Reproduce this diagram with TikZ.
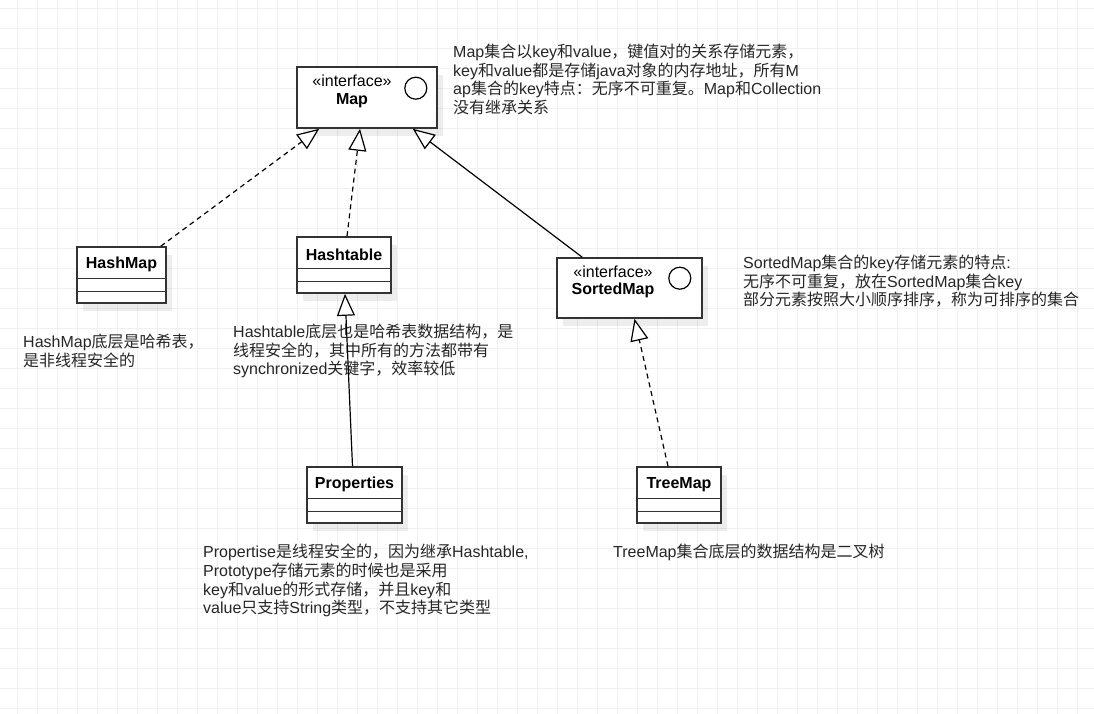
\documentclass[tikz,border=0pt]{standalone}
\usepackage{fontspec}
\setmainfont{Liberation Sans}
\newfontfamily\cjkf{Noto Sans CJK SC}
\usetikzlibrary{arrows.meta,calc,shadows}
\XeTeXinterchartokenstate=1
\newXeTeXintercharclass\cjkcls
\newcount\mycnt
\mycnt="3000 \loop \XeTeXcharclass\mycnt=\cjkcls \advance\mycnt by 1 \ifnum\mycnt<"3040 \repeat
\mycnt="4E00 \loop \XeTeXcharclass\mycnt=\cjkcls \advance\mycnt by 1 \ifnum\mycnt<"A000 \repeat
\mycnt="FF00 \loop \XeTeXcharclass\mycnt=\cjkcls \advance\mycnt by 1 \ifnum\mycnt<"FFF0 \repeat
\XeTeXinterchartoks 0 \cjkcls={\cjkf}
\XeTeXinterchartoks 4095 \cjkcls={\cjkf}
\XeTeXinterchartoks \cjkcls 0={\rmfamily}
\XeTeXinterchartoks \cjkcls 4095={\rmfamily}
\definecolor{stroke}{HTML}{333333}
\definecolor{txt}{HTML}{262626}
\definecolor{gridc}{HTML}{F0F0F0}
\tikzset{
  umlbox/.style={draw=stroke, line width=1.6pt, fill=white, inner sep=0pt,
    drop shadow={shadow xshift=6pt, shadow yshift=-8pt, fill=black, opacity=0.07}},
  divider/.style={draw=stroke, line width=1.4pt},
  lbl/.style={inner sep=0pt, font=\fontsize{16}{19}\selectfont\bfseries, text=black},
  stereo/.style={inner sep=0pt, font=\fontsize{16}{19}\selectfont, text=black},
  ifcircle/.style={circle, draw=black, line width=1.2pt, minimum size=22pt, inner sep=0pt},
  note/.style={anchor=north west, inner sep=0pt, align=left, text=txt,
    font=\fontsize{16}{18.6}\selectfont},
  realize/.style={draw=black, line width=1.2pt, dash pattern=on 5pt off 4pt,
    -{Triangle[length=22pt,width=18pt,fill=white,line width=1.2pt]}},
  generalize/.style={draw=black, line width=1.2pt,
    -{Triangle[length=22pt,width=18pt,fill=white,line width=1.2pt]}},
}
\begin{document}
\begin{tikzpicture}[x=1pt,y=-1pt]
\useasboundingbox (0,0) rectangle (1094,714);
\fill[white] (0,0) rectangle (1094,714);
\foreach \gx in {17,37,...,1093} {\draw[gridc, line width=0.9pt] (\gx,0) -- (\gx,714);}
\foreach \gy in {8,28,...,713} {\draw[gridc, line width=0.9pt] (0,\gy) -- (1094,\gy);}

% boxes
\node[umlbox, minimum width=140pt, minimum height=61pt] (map) at (367,97.5) {};
\node[umlbox, minimum width=89pt, minimum height=56pt] (hm) at (121.5,275) {};
\node[umlbox, minimum width=94pt, minimum height=56pt] (ht) at (344,265) {};
\node[umlbox, minimum width=145pt, minimum height=60pt] (sm) at (629.5,288) {};
\node[umlbox, minimum width=95pt, minimum height=56pt] (pr) at (354.5,495) {};
\node[umlbox, minimum width=84pt, minimum height=56pt] (tm) at (679,495) {};

% dividers
\foreach \b in {hm,ht,pr,tm} {
  \draw[divider] ($(\b.north west)+(0,32)$) -- ($(\b.north east)+(0,32)$);
  \draw[divider] ($(\b.north west)+(0,45)$) -- ($(\b.north east)+(0,45)$);
}

% labels
\node[stereo] (mapI) at ($(map.north)+(-15,15)$) {«interface»};
\node[lbl] (mapN) at ($(map.north)+(-15,34.5)$) {Map};
\node[ifcircle] (mapC) at ($(map.north east)+(-22,22)$) {};
\node[stereo] (smI) at ($(sm.north)+(-16.5,15)$) {«interface»};
\node[lbl] (smN) at ($(sm.north)+(-16.5,33)$) {SortedMap};
\node[ifcircle] (smC) at ($(sm.north east)+(-23,21)$) {};
\node[lbl] (hmN) at ($(hm.north)+(0,18.5)$) {HashMap};
\node[lbl] (htN) at ($(ht.north)+(0,18.5)$) {Hashtable};
\node[lbl] (prN) at ($(pr.north)+(0,18.5)$) {Properties};
\node[lbl] (tmN) at ($(tm.north)+(0,18.5)$) {TreeMap};

% notes
\node[note] (mapNote) at (453,44) {Map集合以key和value，键值对的关系存储元素，\\key和value都是存储java对象的内存地址，所有M\\ap集合的key特点：无序不可重复。Map和Collection\\没有继承关系};
\node[note] (smNote) at (743,255) {SortedMap集合的key存储元素的特点:\\无序不可重复，放在SortedMap集合key\\部分元素按照大小顺序排序，称为可排序的集合};
\node[note] (hmNote) at (23,334) {HashMap底层是哈希表，\\是非线程安全的};
\node[note] (htNote) at (233,324) {Hashtable底层也是哈希表数据结构，是\\线程安全的，其中所有的方法都带有\\synchronized关键字，效率较低};
\node[note] (prNote) at (203,544) {Propertise是线程安全的，因为继承Hashtable,\\Prototype存储元素的时候也是采用\\key和value的形式存储，并且key和\\value只支持String类型，不支持其它类型};
\node[note] (tmNote) at (613,544) {TreeMap集合底层的数据结构是二叉树};

% connectors
\draw[realize] ($(hm.north east)+(-6,0)$) -- ($(map.south west)+(23,0)$);
\draw[realize] ($(ht.north)+(3,0)$) -- ($(map.south)+(-7,0)$);
\draw[generalize] ($(sm.north west)+(26,0)$) -- ($(map.south east)+(-25,0)$);
\draw[generalize] ($(pr.north)+(-2,0)$) -- ($(ht.south)+(1,0)$);
\draw[realize] ($(tm.north)+(-11,0)$) -- ($(sm.south)+(5,0)$);
\end{tikzpicture}
\end{document}
